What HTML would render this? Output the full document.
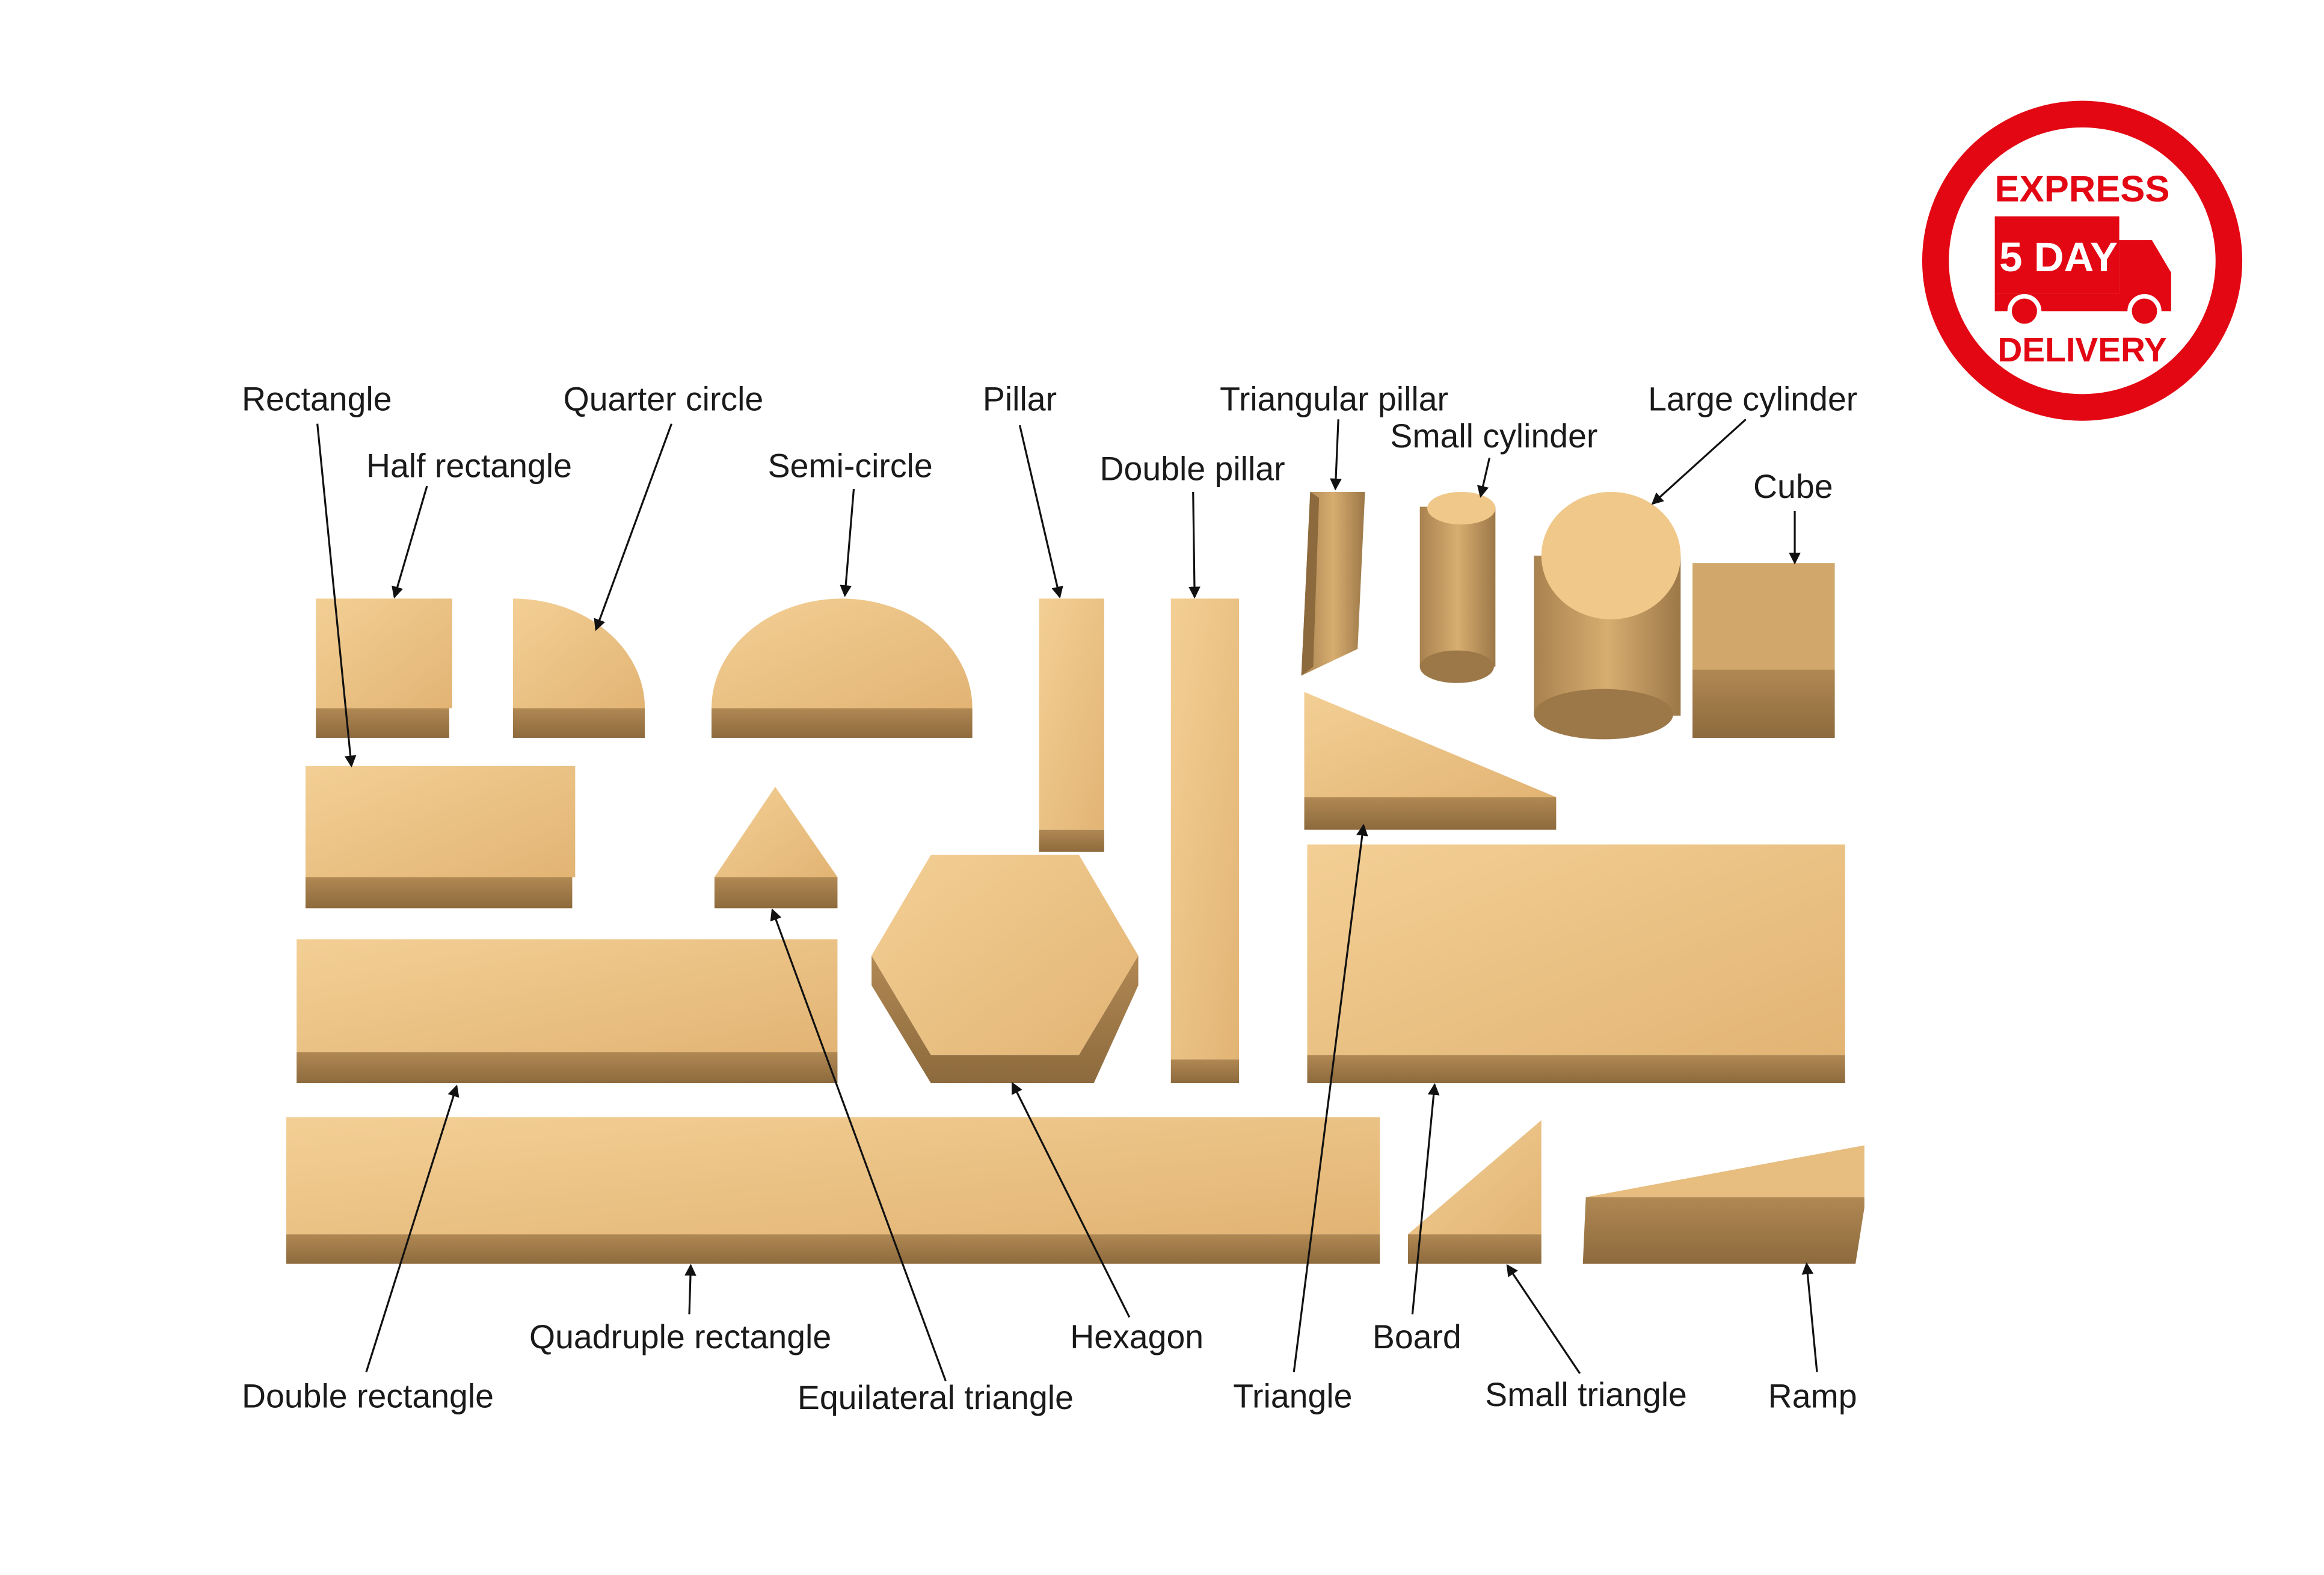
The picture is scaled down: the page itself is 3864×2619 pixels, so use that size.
<!DOCTYPE html>
<html><head><meta charset="utf-8"><style>
html,body{margin:0;padding:0;background:#fff;}
svg{display:block}
text{font-family:"Liberation Sans",sans-serif;font-size:22.5px;fill:#1a1a1a}
</style></head><body>
<svg width="3864" height="2619" viewBox="0 0 1568 1063" xmlns="http://www.w3.org/2000/svg">
<defs>
<linearGradient id="w" x1="0" y1="0" x2="1" y2="1"><stop offset="0" stop-color="#f3cf95"/><stop offset="1" stop-color="#e2b474"/></linearGradient>
<linearGradient id="s" x1="0" y1="0" x2="0" y2="1"><stop offset="0" stop-color="#b08853"/><stop offset="1" stop-color="#8d6a3d"/></linearGradient>
<linearGradient id="c" x1="0" y1="0" x2="1" y2="0"><stop offset="0" stop-color="#a8824f"/><stop offset="0.5" stop-color="#d7ad70"/><stop offset="1" stop-color="#9c7848"/></linearGradient>
<marker id="a" markerWidth="8" markerHeight="8" refX="7" refY="4" orient="auto" markerUnits="userSpaceOnUse"><path d="M0,0 L8,4 L0,8 z" fill="#111"/></marker>
</defs>
<g stroke="none">
<rect x="213" y="404" width="92" height="74" fill="url(#w)"/><rect x="213" y="478" width="90" height="20" fill="url(#s)"/>
<path d="M346,478 L346,404 A89,74 0 0 1 435,478 z" fill="url(#w)"/><rect x="346" y="478" width="89" height="20" fill="url(#s)"/>
<path d="M480,478 A88,74 0 0 1 656,478 z" fill="url(#w)"/><rect x="480" y="478" width="176" height="20" fill="url(#s)"/>
<rect x="701" y="404" width="44" height="156" fill="url(#w)"/><rect x="701" y="560" width="44" height="15" fill="url(#s)"/>
<rect x="790" y="404" width="46" height="311" fill="url(#w)"/><rect x="790" y="715" width="46" height="16" fill="url(#s)"/>
<polygon points="884,332 921,332 916,438 878,456" fill="url(#c)"/><polygon points="878,456 884,332 890,336 886,450" fill="#8d6a3d"/>
<rect x="958" y="342" width="51" height="108" fill="url(#c)"/><ellipse cx="983" cy="450" rx="25" ry="11" fill="#9c7848"/><ellipse cx="986" cy="343" rx="23" ry="11" fill="#f0c88a"/>
<rect x="1035" y="375" width="99" height="108" fill="url(#c)"/><ellipse cx="1082" cy="482" rx="47" ry="17" fill="#9c7848"/><ellipse cx="1087" cy="375" rx="47" ry="43" fill="#f0c88a"/>
<rect x="1142" y="380" width="96" height="118" fill="#d2a76c"/><rect x="1142" y="452" width="96" height="46" fill="url(#s)"/>
<polygon points="880,467 1050,538 880,538" fill="url(#w)"/><rect x="880" y="538" width="170" height="22" fill="url(#s)"/>
<rect x="206" y="517" width="182" height="75" fill="url(#w)"/><rect x="206" y="592" width="180" height="21" fill="url(#s)"/>
<polygon points="523,531 565,592 482,592" fill="url(#w)"/><rect x="482" y="592" width="83" height="21" fill="url(#s)"/>
<polygon points="628,577 728,577 768,645 728,712 628,712 588,645" fill="url(#w)"/><polygon points="588,645 628,712 728,712 768,645 768,665 738,731 628,731 588,665" fill="url(#s)"/>
<rect x="200" y="634" width="365" height="76" fill="url(#w)"/><rect x="200" y="710" width="365" height="21" fill="url(#s)"/>
<rect x="882" y="570" width="363" height="142" fill="url(#w)"/><rect x="882" y="712" width="363" height="19" fill="url(#s)"/>
<rect x="193" y="754" width="738" height="79" fill="url(#w)"/><rect x="193" y="833" width="738" height="20" fill="url(#s)"/>
<polygon points="950,833 1040,756 1040,833" fill="url(#w)"/><rect x="950" y="833" width="90" height="20" fill="url(#s)"/>
<polygon points="1070,808 1258,773 1258,808" fill="#e8bd80"/><polygon points="1070,808 1258,808 1258,815 1252,853 1068,853" fill="url(#s)"/>
</g>
<g stroke="#111" stroke-width="1.3" marker-end="url(#a)">
<line x1="214" y1="286" x2="237" y2="517"/>
<line x1="288" y1="328" x2="266" y2="403"/>
<line x1="453" y1="286" x2="402" y2="425"/>
<line x1="576" y1="330" x2="570" y2="402"/>
<line x1="688" y1="287" x2="715" y2="403"/>
<line x1="805" y1="332" x2="806" y2="403"/>
<line x1="903" y1="283" x2="901" y2="330"/>
<line x1="1005" y1="309" x2="999" y2="335"/>
<line x1="1178" y1="283" x2="1115" y2="340"/>
<line x1="1211" y1="345" x2="1211" y2="380"/>
<line x1="247" y1="926" x2="308" y2="733"/>
<line x1="465" y1="887" x2="466" y2="854"/>
<line x1="638" y1="932" x2="521" y2="614"/>
<line x1="762" y1="889" x2="683" y2="731"/>
<line x1="873" y1="926" x2="920" y2="557"/>
<line x1="953" y1="887" x2="968" y2="732"/>
<line x1="1066" y1="927" x2="1017" y2="854"/>
<line x1="1226" y1="926" x2="1219" y2="853"/>
</g>
<text x="163" y="277">Rectangle</text>
<text x="247" y="322">Half rectangle</text>
<text x="380" y="277">Quarter circle</text>
<text x="518" y="322">Semi-circle</text>
<text x="663" y="277">Pillar</text>
<text x="742" y="324">Double pillar</text>
<text x="823" y="277">Triangular pillar</text>
<text x="938" y="302">Small cylinder</text>
<text x="1112" y="277">Large cylinder</text>
<text x="1183" y="336">Cube</text>
<text x="163" y="950">Double rectangle</text>
<text x="357" y="910">Quadruple rectangle</text>
<text x="538" y="951">Equilateral triangle</text>
<text x="722" y="910">Hexagon</text>
<text x="832" y="950">Triangle</text>
<text x="926" y="910">Board</text>
<text x="1002" y="949">Small triangle</text>
<text x="1193" y="950">Ramp</text>
<circle cx="1405" cy="176" r="108" fill="#e30613"/>
<circle cx="1405" cy="176" r="90" fill="#fff"/>
<text x="1405" y="136" text-anchor="middle" style="font-size:25px;font-weight:bold;fill:#e30613">EXPRESS</text>
<rect x="1346" y="146" width="84" height="52" fill="#e30613"/>
<path d="M1430,162 L1452,162 L1465,184 L1465,210 L1430,210 z" fill="#e30613"/>
<rect x="1346" y="198" width="90" height="12" fill="#e30613"/>
<circle cx="1366" cy="210" r="10" fill="#e30613" stroke="#fff" stroke-width="3"/>
<circle cx="1447" cy="210" r="10" fill="#e30613" stroke="#fff" stroke-width="3"/>
<text x="1389" y="183" text-anchor="middle" style="font-size:28px;font-weight:bold;fill:#fff">5 DAY</text>
<text x="1405" y="244" text-anchor="middle" style="font-size:23px;font-weight:bold;fill:#e30613">DELIVERY</text>
</svg>
</body></html>
